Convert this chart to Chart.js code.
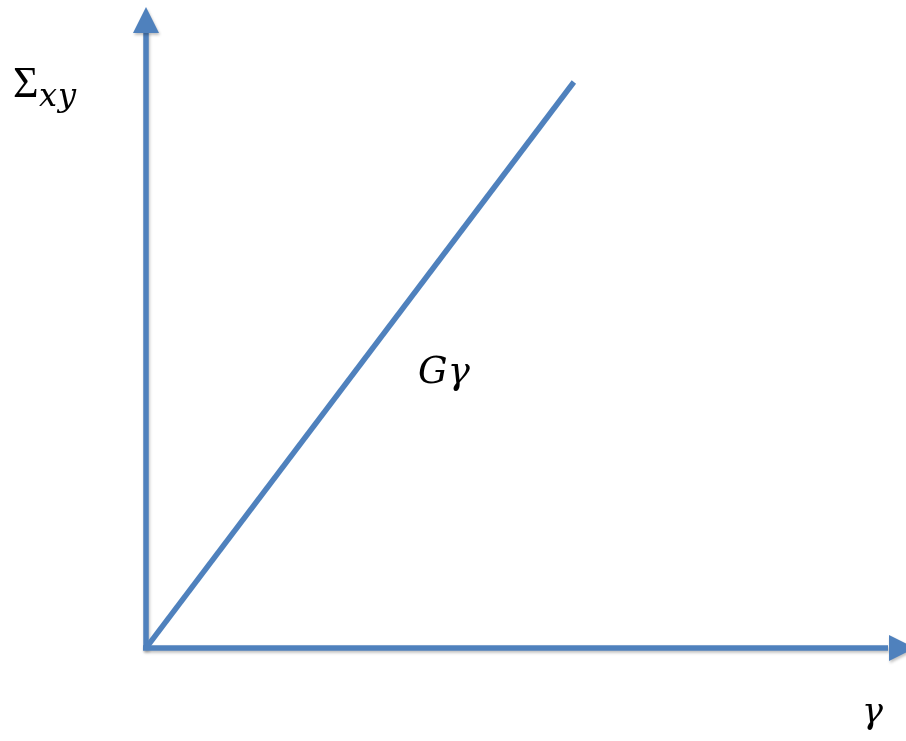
<!DOCTYPE html>
<html>
<head>
<meta charset="utf-8">
<script src="https://cdn.jsdelivr.net/npm/chart.js@4"></script>
<style>
  html, body { margin: 0; padding: 0; background: #fff; }
  #wrap { width: 906px; height: 741px; }
</style>
</head>
<body>
<div id="wrap"><canvas id="grafico"></canvas></div>
<script>
// Dados: deformação (gamma) e tensão (Sigma_xy = G * gamma)
var gamma = [0, 5.63];
var sigma = [0, 8.83];
var eixoX = [0, 10]; // limites do eixo gamma
var eixoY = [0, 10]; // limites do eixo Sigma
var rotuloLinha = { texto: 'Gγ', x: 3.58, y: 4.13 };

var azul = '#4f81bd';

// Desenha os eixos com setas e os textos
var eixosPlugin = {
    id: 'eixos',
    beforeDatasetsDraw: function(chart) {
        var ctx = chart.ctx;
        var sx = chart.scales.x, sy = chart.scales.y;
        var x0 = sx.getPixelForValue(eixoX[0]);
        var y0 = sy.getPixelForValue(eixoY[0]);
        var x1 = sx.getPixelForValue(eixoX[1]);
        var y1 = sy.getPixelForValue(eixoY[1]);
        ctx.save();
        ctx.shadowColor = 'rgba(0,0,0,0.25)';
        ctx.shadowBlur = 3;
        ctx.shadowOffsetX = 1;
        ctx.shadowOffsetY = 2;
        ctx.strokeStyle = azul;
        ctx.fillStyle = azul;
        ctx.lineWidth = 5.5;
        // eixo vertical
        ctx.beginPath();
        ctx.moveTo(x0, y0 + 2);
        ctx.lineTo(x0, y1 + 24);
        ctx.stroke();
        ctx.beginPath();
        ctx.moveTo(x0, y1);
        ctx.lineTo(x0 - 13, y1 + 26);
        ctx.lineTo(x0 + 13, y1 + 26);
        ctx.closePath();
        ctx.fill();
        // eixo horizontal
        ctx.beginPath();
        ctx.moveTo(x0 - 3, y0);
        ctx.lineTo(x1 - 18, y0);
        ctx.stroke();
        ctx.beginPath();
        ctx.moveTo(x1 + 9, y0);
        ctx.lineTo(x1 - 17, y0 - 13);
        ctx.lineTo(x1 - 17, y0 + 13);
        ctx.closePath();
        ctx.fill();
        ctx.restore();
    },
    afterDraw: function(chart) {
        var ctx = chart.ctx;
        var sx = chart.scales.x, sy = chart.scales.y;
        ctx.save();
        ctx.fillStyle = '#000';
        ctx.textBaseline = 'alphabetic';
        // Sigma_xy
        ctx.font = '44px "Liberation Serif"';
        ctx.fillText('Σ', 13, 97);
        ctx.font = 'italic 32px "DejaVu Serif"';
        ctx.letterSpacing = '1px';
        ctx.fillText('xy', 39, 106);
        ctx.letterSpacing = '0px';
        // G gamma
        ctx.font = 'italic 37px "DejaVu Serif"';
        ctx.fillText(rotuloLinha.texto, sx.getPixelForValue(rotuloLinha.x), sy.getPixelForValue(rotuloLinha.y));
        // gamma
        ctx.font = 'italic 35px "DejaVu Serif"';
        ctx.fillText('γ', 862, 723);
        ctx.restore();
    }
};

var ctx = document.getElementById('grafico').getContext('2d');
var grafico = new Chart(ctx, {
    type: 'scatter',
    data: {
        datasets: [{
            data: gamma.map(function(g, i) { return { x: g, y: sigma[i] }; }),
            showLine: true,
            borderColor: azul,
            borderWidth: 5.5,
            pointRadius: 0,
            borderCapStyle: 'butt'
        }]
    },
    options: {
        responsive: true,
        maintainAspectRatio: false,
        animation: false,
        layout: { padding: { left: 146, top: 7, right: 0, bottom: 93 } },
        plugins: { legend: { display: false }, tooltip: { enabled: false } },
        scales: {
            x: { type: 'linear', min: eixoX[0], max: eixoX[1], display: false },
            y: { type: 'linear', min: eixoY[0], max: eixoY[1], display: false }
        }
    },
    plugins: [eixosPlugin]
});
</script>
</body>
</html>
